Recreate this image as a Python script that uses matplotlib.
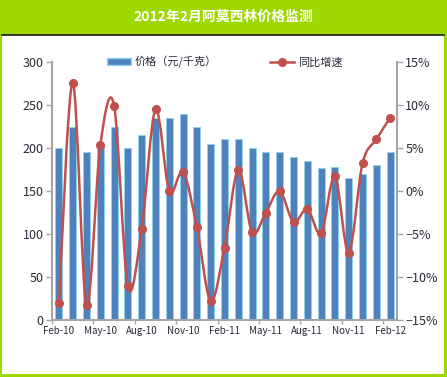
import numpy as np
import matplotlib.pyplot as plt
from matplotlib.path import Path
from matplotlib.patches import PathPatch, Rectangle
from matplotlib.lines import Line2D
from matplotlib.ticker import FuncFormatter, FixedLocator

plt.rcParams['font.family'] = ['Noto Sans CJK SC', 'DejaVu Sans']

# 数据
months = ["Feb-10", "Mar-10", "Apr-10", "May-10", "Jun-10", "Jul-10", "Aug-10",
          "Sep-10", "Oct-10", "Nov-10", "Dec-10", "Jan-11", "Feb-11", "Mar-11",
          "Apr-11", "May-11", "Jun-11", "Jul-11", "Aug-11", "Sep-11", "Oct-11",
          "Nov-11", "Dec-11", "Jan-12", "Feb-12"]
price = [200, 225, 195, 205, 225, 200, 215, 235, 235, 240, 225, 205, 210, 210,
         200, 195, 195, 190, 185, 177, 178, 165, 170, 180, 195]
growth = [-13.0, 12.6, -13.3, 5.3, 9.9, -11.1, -4.4, 9.5, 0.0, 2.2, -4.2, -12.8,
          -6.6, 2.5, -4.8, -2.5, 0.0, -3.6, -2.1, -4.9, 1.7, -7.2, 3.2, 6.0, 8.5]

title = "2012年2月阿莫西林价格监测"
bar_label = "价格（元/千克）"
line_label = "同比增速"

GREEN = "#9FD700"
BLUE = "#4F81BD"
RED = "#C0504D"
TXT = "#2B2B3A"
SPINE = "#A6A6A6"

fig = plt.figure(figsize=(4.47, 3.77), dpi=100, facecolor=GREEN)

# 白色面板
W, H = 447, 377
fig.patches.append(Rectangle((2 / W, (H - 374) / H), 442 / W, 339 / H,
                             transform=fig.transFigure, facecolor="white",
                             edgecolor="none", zorder=-2))
fig.lines.append(Line2D([2 / W, 444 / W], [(H - 34.5) / H] * 2,
                        transform=fig.transFigure, color="#1A1A1A", lw=1.2,
                        zorder=-1))

fig.text(0.5, 1 - 17 / H, title, color="white", fontsize=10, weight="bold",
         ha="center", va="center")

ax = fig.add_axes([52 / W, 57 / H, 345 / W, 258 / H])
ax.set_facecolor("none")
x = np.arange(len(months))
ax.bar(x, price, width=0.5, color=BLUE, edgecolor="#8FD3E6", linewidth=0.7,
       label=bar_label, zorder=2)
ax.set_xlim(-0.5, len(months) - 0.5)
ax.set_ylim(0, 300)
ax.set_yticks(range(0, 301, 50))

ax.xaxis.set_major_locator(FixedLocator(x[::3]))
ax.set_xticklabels(months[::3])
ax.xaxis.set_minor_locator(FixedLocator(np.arange(-0.5, len(months), 3)))
ax.tick_params(axis="x", which="major", length=0, pad=4, labelsize=7,
               labelcolor=TXT)
ax.tick_params(axis="x", which="minor", length=3, color=SPINE, width=1)
ax.tick_params(axis="y", length=4, color=SPINE, width=1, labelsize=9,
               labelcolor=TXT, pad=2)

ax2 = ax.twinx()
ax2.set_ylim(-15, 15)
ax2.set_yticks(range(-15, 16, 5))
ax2.yaxis.set_major_formatter(FuncFormatter(lambda v, p: f"{v:.0f}%".replace("-", "\u2212")))
ax2.tick_params(axis="y", length=4, color=SPINE, width=1, labelsize=9,
                labelcolor=TXT, pad=2)

for a in (ax, ax2):
    a.spines["top"].set_visible(False)
    for s in ("left", "right", "bottom"):
        a.spines[s].set_color(SPINE)
        a.spines[s].set_linewidth(1.5)
ax.spines["right"].set_visible(False)
ax2.spines["left"].set_visible(False)
ax2.spines["bottom"].set_visible(False)

# 平滑曲线 (Excel 风格的贝塞尔)
pts = np.column_stack([x, growth]).astype(float)
ext = np.vstack([pts[0], pts, pts[-1]])
verts = [tuple(pts[0])]
codes = [Path.MOVETO]
for i in range(len(pts) - 1):
    p0, p1, p2, p3 = ext[i], ext[i + 1], ext[i + 2], ext[i + 3]
    c1 = p1 + (p2 - p0) / 6
    c2 = p2 - (p3 - p1) / 6
    verts += [tuple(c1), tuple(c2), tuple(p2)]
    codes += [Path.CURVE4] * 3
ax2.add_patch(PathPatch(Path(verts, codes), fill=False, edgecolor=RED, lw=1.8,
                        zorder=3))
ax2.plot(x, growth, "o", color=RED, ms=5.5, zorder=4)

h1 = Rectangle((0, 0), 1, 1, facecolor=BLUE, edgecolor="#8FD3E6")
h2 = Line2D([], [], color=RED, lw=1.8, marker="o", ms=5.5)
leg = ax2.legend([h1, h2], [bar_label, line_label], loc="center",
                 bbox_to_anchor=(0.5, 1.0), ncol=2, frameon=False, fontsize=8,
                 handlelength=2.2, handletextpad=0.3, columnspacing=4.8,
                 handleheight=0.6)
for t in leg.get_texts():
    t.set_color(TXT)

fig.savefig("out.png", dpi=100, facecolor=GREEN)
